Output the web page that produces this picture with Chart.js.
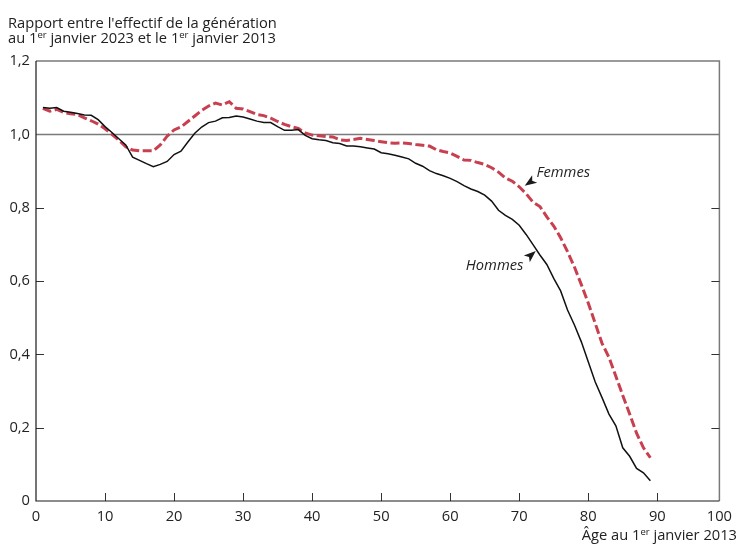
<!DOCTYPE html>
<html lang="fr">
<head>
<meta charset="utf-8">
<title>Rapport entre l'effectif de la génération</title>
<script src="https://cdn.jsdelivr.net/npm/chart.js@4.4.1/dist/chart.umd.min.js"></script>
<style>
  body { margin: 0; background: #fff; }
  canvas { display: block; }
</style>
</head>
<body>
<canvas id="ratioChart" width="739" height="544"></canvas>
<script>
// age au 1er janvier 2013
const ages = [1,2,3,4,5,6,7,8,9,10,11,12,13,14,15,16,17,18,19,20,
  21,22,23,24,25,26,27,28,29,30,31,32,33,34,35,36,37,38,39,40,
  41,42,43,44,45,46,47,48,49,50,51,52,53,54,55,56,57,58,59,60,
  61,62,63,64,65,66,67,68,69,70,71,72,73,74,75,76,77,78,79,80,
  81,82,83,84,85,86,87,88,89];

const hommes = [1.073,1.071,1.073,1.063,1.060,1.057,1.053,1.052,1.040,1.021,
  1.005,0.988,0.971,0.938,0.929,0.920,0.912,0.918,0.926,0.945,
  0.954,0.979,1.003,1.020,1.032,1.036,1.045,1.046,1.050,1.047,
  1.042,1.036,1.032,1.032,1.021,1.011,1.011,1.013,0.997,0.988,
  0.985,0.983,0.977,0.975,0.968,0.968,0.966,0.963,0.960,0.950,
  0.947,0.943,0.938,0.933,0.921,0.913,0.901,0.893,0.887,0.880,
  0.871,0.860,0.851,0.844,0.834,0.818,0.793,0.779,0.768,0.752,
  0.727,0.699,0.671,0.645,0.607,0.573,0.521,0.480,0.434,0.380,
  0.325,0.282,0.237,0.205,0.145,0.122,0.089,0.077,0.055];

const femmes = [1.071,1.063,1.068,1.060,1.056,1.054,1.045,1.037,1.028,1.015,
  1.000,0.984,0.966,0.957,0.955,0.955,0.955,0.971,0.995,1.012,
  1.020,1.035,1.050,1.065,1.077,1.085,1.080,1.089,1.071,1.069,
  1.062,1.054,1.051,1.044,1.035,1.027,1.021,1.016,1.004,0.998,
  0.996,0.994,0.993,0.985,0.983,0.986,0.989,0.986,0.983,0.980,
  0.977,0.976,0.977,0.975,0.972,0.970,0.968,0.958,0.953,0.949,
  0.940,0.930,0.929,0.923,0.918,0.909,0.897,0.881,0.872,0.857,
  0.838,0.815,0.803,0.775,0.750,0.718,0.680,0.638,0.590,0.540,
  0.485,0.430,0.392,0.340,0.288,0.237,0.185,0.145,0.118];

const xTickValues = [0,10,20,30,40,50,60,70,80,90,99];
const xTickLabels = ['0','10','20','30','40','50','60','70','80','90','100'];
const yTickValues = [0,0.2,0.4,0.6,0.8,1.0,1.2];

const FONT = '"Open Sans", "DejaVu Sans", sans-serif';
const SIZE = 14.7;
const TEXT = '#222';
const FEM_COLOR = '#c8404f';

// text with superscript parts, drawn on the canvas
function drawRich(ctx, parts, x, y, align) {
  let total = 0;
  parts.forEach(p => {
    ctx.font = (p.sup ? '9.5px ' : SIZE + 'px ') + FONT;
    p.w = ctx.measureText(p.t).width;
    total += p.w;
  });
  let cx = align === 'right' ? x - total : x;
  ctx.textAlign = 'left';
  ctx.textBaseline = 'alphabetic';
  parts.forEach(p => {
    ctx.font = (p.sup ? '9.5px ' : SIZE + 'px ') + FONT;
    ctx.fillText(p.t, cx, p.sup ? y - 5 : y);
    cx += p.w;
  });
}

function arrowHead(ctx, tipX, tipY, fromX, fromY) {
  const ang = Math.atan2(tipY - fromY, tipX - fromX);
  const len = 12, half = 4.5;
  ctx.beginPath();
  ctx.moveTo(tipX, tipY);
  ctx.lineTo(tipX - len * Math.cos(ang) + half * Math.sin(ang), tipY - len * Math.sin(ang) - half * Math.cos(ang));
  ctx.lineTo(tipX - len * Math.cos(ang) * 0.75, tipY - len * Math.sin(ang) * 0.75);
  ctx.lineTo(tipX - len * Math.cos(ang) - half * Math.sin(ang), tipY - len * Math.sin(ang) + half * Math.cos(ang));
  ctx.closePath();
  ctx.fill();
}

const refLine = {
  id: 'refLine',
  beforeDatasetsDraw(chart) {
    const { ctx, chartArea: a, scales: { y } } = chart;
    const py = Math.round(y.getPixelForValue(1.0)) + 0.5;
    ctx.save();
    ctx.strokeStyle = '#7a7a7a';
    ctx.lineWidth = 1.5;
    ctx.beginPath();
    ctx.moveTo(a.left, py);
    ctx.lineTo(a.right, py);
    ctx.stroke();
    ctx.restore();
  }
};

const frame = {
  id: 'frame',
  afterDatasetsDraw(chart) {
    const { ctx, chartArea: a, scales: { x, y } } = chart;
    ctx.save();
    // top and right, grey
    ctx.strokeStyle = '#7a7a7a';
    ctx.lineWidth = 1.5;
    ctx.beginPath();
    ctx.moveTo(a.left, a.top);
    ctx.lineTo(a.right, a.top);
    ctx.lineTo(a.right, a.bottom);
    ctx.stroke();
    // inner ticks
    ctx.strokeStyle = '#333';
    ctx.lineWidth = 1;
    ctx.beginPath();
    xTickValues.slice(1, -1).forEach(v => {
      const px = Math.round(x.getPixelForValue(v)) + 0.5;
      ctx.moveTo(px, a.bottom);
      ctx.lineTo(px, a.bottom - 8);
    });
    yTickValues.slice(1, 5).forEach(v => {
      const py = Math.round(y.getPixelForValue(v)) + 0.5;
      ctx.moveTo(a.left, py);
      ctx.lineTo(a.left + 8, py);
      ctx.moveTo(a.right, py);
      ctx.lineTo(a.right - 8, py);
    });
    ctx.stroke();
    // left and bottom, black
    ctx.strokeStyle = '#1a1a1a';
    ctx.lineWidth = 1.2;
    ctx.beginPath();
    ctx.moveTo(a.left, a.top);
    ctx.lineTo(a.left, a.bottom);
    ctx.lineTo(a.right, a.bottom);
    ctx.stroke();
    ctx.restore();
  },
  afterDraw(chart) {
    const { ctx, scales: { x, y } } = chart;
    ctx.save();
    ctx.fillStyle = TEXT;
    drawRich(ctx, [{ t: "Rapport entre l'effectif de la génération" }], 8, 28, 'left');
    drawRich(ctx, [{ t: 'au 1' }, { t: 'er', sup: true }, { t: ' janvier 2023 et le 1' },
      { t: 'er', sup: true }, { t: ' janvier 2013' }], 8, 43, 'left');
    drawRich(ctx, [{ t: 'Âge au 1' }, { t: 'er', sup: true }, { t: ' janvier 2013' }], 737, 540, 'right');

    // series labels with arrows
    ctx.font = 'italic ' + SIZE + 'px ' + FONT;
    ctx.textBaseline = 'middle';
    ctx.textAlign = 'left';
    ctx.fillText('Femmes', x.getPixelForValue(72.5), y.getPixelForValue(0.894));
    ctx.textAlign = 'right';
    ctx.fillText('Hommes', x.getPixelForValue(70.6), y.getPixelForValue(0.641));
    ctx.fillStyle = '#1a1a1a';
    arrowHead(ctx, x.getPixelForValue(70.8), y.getPixelForValue(0.860),
      x.getPixelForValue(72.3), y.getPixelForValue(0.879));
    arrowHead(ctx, x.getPixelForValue(72.4), y.getPixelForValue(0.682),
      x.getPixelForValue(70.9), y.getPixelForValue(0.657));
    ctx.restore();
  }
};

new Chart(document.getElementById('ratioChart'), {
  type: 'line',
  data: {
    datasets: [
      {
        label: 'Hommes',
        data: ages.map((a, i) => ({ x: a, y: hommes[i] })),
        borderColor: '#111',
        borderWidth: 1.5,
        pointRadius: 0,
        tension: 0
      },
      {
        label: 'Femmes',
        data: ages.map((a, i) => ({ x: a, y: femmes[i] })),
        borderColor: FEM_COLOR,
        borderWidth: 3,
        borderDash: [9, 3.5],
        pointRadius: 0,
        tension: 0
      }
    ]
  },
  options: {
    responsive: false,
    animation: false,
    layout: { padding: { top: 61, right: 12, left: 0, bottom: 0 } },
    plugins: {
      legend: { display: false },
      tooltip: { enabled: false }
    },
    scales: {
      x: {
        type: 'linear',
        min: 0,
        max: 99,
        afterBuildTicks: s => { s.ticks = xTickValues.map(v => ({ value: v })); },
        afterFit: s => { s.height = 43; },
        grid: { display: false, drawTicks: false },
        border: { display: false },
        ticks: {
          padding: 7,
          maxRotation: 0,
          autoSkip: false,
          color: TEXT,
          font: { family: FONT, size: SIZE },
          callback: (v, i) => xTickLabels[i]
        }
      },
      y: {
        min: 0,
        max: 1.2,
        afterBuildTicks: s => { s.ticks = yTickValues.map(v => ({ value: v })); },
        afterFit: s => { s.width = 36; },
        grid: { display: false, drawTicks: false },
        border: { display: false },
        ticks: {
          padding: 6,
          color: TEXT,
          font: { family: FONT, size: SIZE },
          callback: v => v === 0 ? '0' : v.toFixed(1).replace('.', ',')
        }
      }
    }
  },
  plugins: [refLine, frame]
});
</script>
</body>
</html>
